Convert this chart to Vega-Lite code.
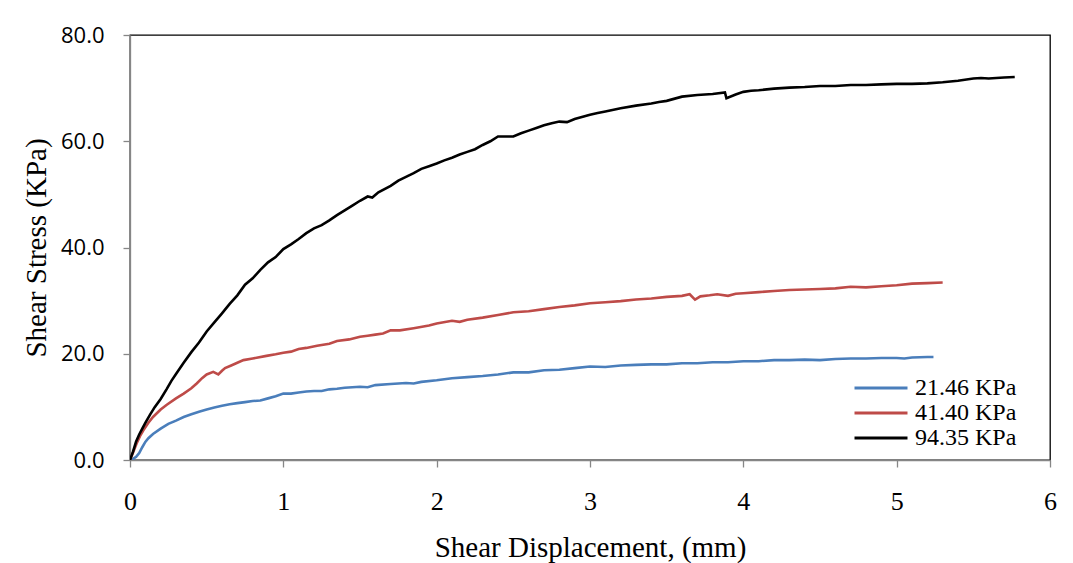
{
  "$schema": "https://vega.github.io/schema/vega-lite/v6.json",
  "width": 920,
  "height": 425,
  "autosize": {"type": "none"},
  "padding": {"left": 130, "top": 35, "right": 23, "bottom": 103},
  "background": "white",
  "config": {
    "view": {"stroke": "#000000", "strokeWidth": 1.3},
    "axis": {"grid": false, "domainColor": "#868686", "tickColor": "#868686", "domainWidth": 1.3, "tickWidth": 1.3, "tickSize": 7, "labelColor": "#000000", "titleColor": "#000000", "titleFontWeight": "normal"}
  },
  "datasets": {
    "d": [
      {"series": "21.46 KPa", "disp": 0, "stress": 0},
      {"series": "21.46 KPa", "disp": 0.02, "stress": 0.2},
      {"series": "21.46 KPa", "disp": 0.04, "stress": 0.6},
      {"series": "21.46 KPa", "disp": 0.06, "stress": 1.3},
      {"series": "21.46 KPa", "disp": 0.08, "stress": 2.4},
      {"series": "21.46 KPa", "disp": 0.1, "stress": 3.4},
      {"series": "21.46 KPa", "disp": 0.12, "stress": 4.1},
      {"series": "21.46 KPa", "disp": 0.15, "stress": 4.9},
      {"series": "21.46 KPa", "disp": 0.2, "stress": 5.9},
      {"series": "21.46 KPa", "disp": 0.25, "stress": 6.8},
      {"series": "21.46 KPa", "disp": 0.3, "stress": 7.4},
      {"series": "21.46 KPa", "disp": 0.35, "stress": 8.1},
      {"series": "21.46 KPa", "disp": 0.4, "stress": 8.6},
      {"series": "21.46 KPa", "disp": 0.45, "stress": 9.1},
      {"series": "21.46 KPa", "disp": 0.5, "stress": 9.5},
      {"series": "21.46 KPa", "disp": 0.55, "stress": 9.9},
      {"series": "21.46 KPa", "disp": 0.6, "stress": 10.2},
      {"series": "21.46 KPa", "disp": 0.65, "stress": 10.5},
      {"series": "21.46 KPa", "disp": 0.7, "stress": 10.7},
      {"series": "21.46 KPa", "disp": 0.75, "stress": 10.9},
      {"series": "21.46 KPa", "disp": 0.8, "stress": 11.1},
      {"series": "21.46 KPa", "disp": 0.85, "stress": 11.2},
      {"series": "21.46 KPa", "disp": 0.9, "stress": 11.6},
      {"series": "21.46 KPa", "disp": 0.95, "stress": 12.0},
      {"series": "21.46 KPa", "disp": 1.0, "stress": 12.5},
      {"series": "21.46 KPa", "disp": 1.05, "stress": 12.5},
      {"series": "21.46 KPa", "disp": 1.1, "stress": 12.7},
      {"series": "21.46 KPa", "disp": 1.15, "stress": 12.9},
      {"series": "21.46 KPa", "disp": 1.2, "stress": 13.0},
      {"series": "21.46 KPa", "disp": 1.25, "stress": 13.0},
      {"series": "21.46 KPa", "disp": 1.3, "stress": 13.3},
      {"series": "21.46 KPa", "disp": 1.35, "stress": 13.4},
      {"series": "21.46 KPa", "disp": 1.4, "stress": 13.6},
      {"series": "21.46 KPa", "disp": 1.5, "stress": 13.8},
      {"series": "21.46 KPa", "disp": 1.55, "stress": 13.7},
      {"series": "21.46 KPa", "disp": 1.6, "stress": 14.1},
      {"series": "21.46 KPa", "disp": 1.7, "stress": 14.3},
      {"series": "21.46 KPa", "disp": 1.8, "stress": 14.5},
      {"series": "21.46 KPa", "disp": 1.85, "stress": 14.4},
      {"series": "21.46 KPa", "disp": 1.9, "stress": 14.7},
      {"series": "21.46 KPa", "disp": 2.0, "stress": 15.0},
      {"series": "21.46 KPa", "disp": 2.1, "stress": 15.4},
      {"series": "21.46 KPa", "disp": 2.2, "stress": 15.6},
      {"series": "21.46 KPa", "disp": 2.3, "stress": 15.8},
      {"series": "21.46 KPa", "disp": 2.4, "stress": 16.1},
      {"series": "21.46 KPa", "disp": 2.5, "stress": 16.5},
      {"series": "21.46 KPa", "disp": 2.6, "stress": 16.5},
      {"series": "21.46 KPa", "disp": 2.7, "stress": 16.9},
      {"series": "21.46 KPa", "disp": 2.8, "stress": 17.0},
      {"series": "21.46 KPa", "disp": 2.9, "stress": 17.3},
      {"series": "21.46 KPa", "disp": 3.0, "stress": 17.6},
      {"series": "21.46 KPa", "disp": 3.1, "stress": 17.5},
      {"series": "21.46 KPa", "disp": 3.2, "stress": 17.8},
      {"series": "21.46 KPa", "disp": 3.3, "stress": 17.9},
      {"series": "21.46 KPa", "disp": 3.4, "stress": 18.0},
      {"series": "21.46 KPa", "disp": 3.5, "stress": 18.0},
      {"series": "21.46 KPa", "disp": 3.6, "stress": 18.2},
      {"series": "21.46 KPa", "disp": 3.7, "stress": 18.2},
      {"series": "21.46 KPa", "disp": 3.8, "stress": 18.4},
      {"series": "21.46 KPa", "disp": 3.9, "stress": 18.4},
      {"series": "21.46 KPa", "disp": 4.0, "stress": 18.6},
      {"series": "21.46 KPa", "disp": 4.1, "stress": 18.6},
      {"series": "21.46 KPa", "disp": 4.2, "stress": 18.8},
      {"series": "21.46 KPa", "disp": 4.3, "stress": 18.8},
      {"series": "21.46 KPa", "disp": 4.4, "stress": 18.9},
      {"series": "21.46 KPa", "disp": 4.5, "stress": 18.8},
      {"series": "21.46 KPa", "disp": 4.6, "stress": 19.0},
      {"series": "21.46 KPa", "disp": 4.7, "stress": 19.1},
      {"series": "21.46 KPa", "disp": 4.8, "stress": 19.1},
      {"series": "21.46 KPa", "disp": 4.9, "stress": 19.2},
      {"series": "21.46 KPa", "disp": 5.0, "stress": 19.2},
      {"series": "21.46 KPa", "disp": 5.05, "stress": 19.1},
      {"series": "21.46 KPa", "disp": 5.1, "stress": 19.3},
      {"series": "21.46 KPa", "disp": 5.2, "stress": 19.4},
      {"series": "21.46 KPa", "disp": 5.24, "stress": 19.4},

      {"series": "41.40 KPa", "disp": 0, "stress": 0},
      {"series": "41.40 KPa", "disp": 0.02, "stress": 1.4},
      {"series": "41.40 KPa", "disp": 0.043, "stress": 3.1},
      {"series": "41.40 KPa", "disp": 0.065, "stress": 4.5},
      {"series": "41.40 KPa", "disp": 0.087, "stress": 5.6},
      {"series": "41.40 KPa", "disp": 0.12, "stress": 7.0},
      {"series": "41.40 KPa", "disp": 0.15, "stress": 8.1},
      {"series": "41.40 KPa", "disp": 0.2, "stress": 9.5},
      {"series": "41.40 KPa", "disp": 0.24, "stress": 10.4},
      {"series": "41.40 KPa", "disp": 0.3, "stress": 11.6},
      {"series": "41.40 KPa", "disp": 0.35, "stress": 12.5},
      {"series": "41.40 KPa", "disp": 0.4, "stress": 13.5},
      {"series": "41.40 KPa", "disp": 0.435, "stress": 14.4},
      {"series": "41.40 KPa", "disp": 0.47, "stress": 15.4},
      {"series": "41.40 KPa", "disp": 0.5, "stress": 16.1},
      {"series": "41.40 KPa", "disp": 0.543, "stress": 16.6},
      {"series": "41.40 KPa", "disp": 0.576, "stress": 16.1},
      {"series": "41.40 KPa", "disp": 0.6, "stress": 16.8},
      {"series": "41.40 KPa", "disp": 0.62, "stress": 17.3},
      {"series": "41.40 KPa", "disp": 0.66, "stress": 17.8},
      {"series": "41.40 KPa", "disp": 0.7, "stress": 18.3},
      {"series": "41.40 KPa", "disp": 0.74, "stress": 18.8},
      {"series": "41.40 KPa", "disp": 0.8, "stress": 19.1},
      {"series": "41.40 KPa", "disp": 0.89, "stress": 19.6},
      {"series": "41.40 KPa", "disp": 0.95, "stress": 19.9},
      {"series": "41.40 KPa", "disp": 1.0, "stress": 20.2},
      {"series": "41.40 KPa", "disp": 1.05, "stress": 20.4},
      {"series": "41.40 KPa", "disp": 1.1, "stress": 20.9},
      {"series": "41.40 KPa", "disp": 1.15, "stress": 21.1},
      {"series": "41.40 KPa", "disp": 1.22, "stress": 21.5},
      {"series": "41.40 KPa", "disp": 1.3, "stress": 21.9},
      {"series": "41.40 KPa", "disp": 1.35, "stress": 22.4},
      {"series": "41.40 KPa", "disp": 1.43, "stress": 22.7},
      {"series": "41.40 KPa", "disp": 1.5, "stress": 23.2},
      {"series": "41.40 KPa", "disp": 1.55, "stress": 23.4},
      {"series": "41.40 KPa", "disp": 1.6, "stress": 23.6},
      {"series": "41.40 KPa", "disp": 1.65, "stress": 23.8},
      {"series": "41.40 KPa", "disp": 1.7, "stress": 24.4},
      {"series": "41.40 KPa", "disp": 1.76, "stress": 24.4},
      {"series": "41.40 KPa", "disp": 1.85, "stress": 24.8},
      {"series": "41.40 KPa", "disp": 1.95, "stress": 25.3},
      {"series": "41.40 KPa", "disp": 2.0, "stress": 25.7},
      {"series": "41.40 KPa", "disp": 2.1, "stress": 26.2},
      {"series": "41.40 KPa", "disp": 2.15, "stress": 26.0},
      {"series": "41.40 KPa", "disp": 2.2, "stress": 26.4},
      {"series": "41.40 KPa", "disp": 2.3, "stress": 26.8},
      {"series": "41.40 KPa", "disp": 2.4, "stress": 27.3},
      {"series": "41.40 KPa", "disp": 2.5, "stress": 27.8},
      {"series": "41.40 KPa", "disp": 2.6, "stress": 28.0},
      {"series": "41.40 KPa", "disp": 2.7, "stress": 28.4},
      {"series": "41.40 KPa", "disp": 2.8, "stress": 28.8},
      {"series": "41.40 KPa", "disp": 2.9, "stress": 29.1},
      {"series": "41.40 KPa", "disp": 3.0, "stress": 29.5},
      {"series": "41.40 KPa", "disp": 3.1, "stress": 29.7},
      {"series": "41.40 KPa", "disp": 3.2, "stress": 29.9},
      {"series": "41.40 KPa", "disp": 3.3, "stress": 30.2},
      {"series": "41.40 KPa", "disp": 3.4, "stress": 30.4},
      {"series": "41.40 KPa", "disp": 3.5, "stress": 30.7},
      {"series": "41.40 KPa", "disp": 3.6, "stress": 30.9},
      {"series": "41.40 KPa", "disp": 3.65, "stress": 31.2},
      {"series": "41.40 KPa", "disp": 3.685, "stress": 30.2},
      {"series": "41.40 KPa", "disp": 3.72, "stress": 30.8},
      {"series": "41.40 KPa", "disp": 3.78, "stress": 31.0},
      {"series": "41.40 KPa", "disp": 3.83, "stress": 31.2},
      {"series": "41.40 KPa", "disp": 3.9, "stress": 30.9},
      {"series": "41.40 KPa", "disp": 3.95, "stress": 31.3},
      {"series": "41.40 KPa", "disp": 4.0, "stress": 31.4},
      {"series": "41.40 KPa", "disp": 4.1, "stress": 31.6},
      {"series": "41.40 KPa", "disp": 4.2, "stress": 31.8},
      {"series": "41.40 KPa", "disp": 4.3, "stress": 32.0},
      {"series": "41.40 KPa", "disp": 4.4, "stress": 32.1},
      {"series": "41.40 KPa", "disp": 4.5, "stress": 32.2},
      {"series": "41.40 KPa", "disp": 4.6, "stress": 32.3},
      {"series": "41.40 KPa", "disp": 4.7, "stress": 32.6},
      {"series": "41.40 KPa", "disp": 4.8, "stress": 32.5},
      {"series": "41.40 KPa", "disp": 4.9, "stress": 32.7},
      {"series": "41.40 KPa", "disp": 5.0, "stress": 32.9},
      {"series": "41.40 KPa", "disp": 5.1, "stress": 33.2},
      {"series": "41.40 KPa", "disp": 5.2, "stress": 33.3},
      {"series": "41.40 KPa", "disp": 5.3, "stress": 33.4},

      {"series": "94.35 KPa", "disp": 0, "stress": 0},
      {"series": "94.35 KPa", "disp": 0.02, "stress": 1.6},
      {"series": "94.35 KPa", "disp": 0.04, "stress": 3.5},
      {"series": "94.35 KPa", "disp": 0.06, "stress": 4.8},
      {"series": "94.35 KPa", "disp": 0.08, "stress": 5.9},
      {"series": "94.35 KPa", "disp": 0.1, "stress": 7.0},
      {"series": "94.35 KPa", "disp": 0.13, "stress": 8.5},
      {"series": "94.35 KPa", "disp": 0.16, "stress": 9.9},
      {"series": "94.35 KPa", "disp": 0.2, "stress": 11.5},
      {"series": "94.35 KPa", "disp": 0.24, "stress": 13.4},
      {"series": "94.35 KPa", "disp": 0.27, "stress": 14.9},
      {"series": "94.35 KPa", "disp": 0.3, "stress": 16.2},
      {"series": "94.35 KPa", "disp": 0.35, "stress": 18.3},
      {"series": "94.35 KPa", "disp": 0.4, "stress": 20.3},
      {"series": "94.35 KPa", "disp": 0.45, "stress": 22.1},
      {"series": "94.35 KPa", "disp": 0.5, "stress": 24.2},
      {"series": "94.35 KPa", "disp": 0.55, "stress": 25.9},
      {"series": "94.35 KPa", "disp": 0.6, "stress": 27.6},
      {"series": "94.35 KPa", "disp": 0.65, "stress": 29.4},
      {"series": "94.35 KPa", "disp": 0.7, "stress": 31.0},
      {"series": "94.35 KPa", "disp": 0.75, "stress": 33.0},
      {"series": "94.35 KPa", "disp": 0.8, "stress": 34.2},
      {"series": "94.35 KPa", "disp": 0.85, "stress": 35.8},
      {"series": "94.35 KPa", "disp": 0.9, "stress": 37.2},
      {"series": "94.35 KPa", "disp": 0.95, "stress": 38.2},
      {"series": "94.35 KPa", "disp": 1.0, "stress": 39.7},
      {"series": "94.35 KPa", "disp": 1.05, "stress": 40.6},
      {"series": "94.35 KPa", "disp": 1.1, "stress": 41.6},
      {"series": "94.35 KPa", "disp": 1.15, "stress": 42.7},
      {"series": "94.35 KPa", "disp": 1.2, "stress": 43.6},
      {"series": "94.35 KPa", "disp": 1.25, "stress": 44.2},
      {"series": "94.35 KPa", "disp": 1.3, "stress": 45.1},
      {"series": "94.35 KPa", "disp": 1.35, "stress": 46.1},
      {"series": "94.35 KPa", "disp": 1.4, "stress": 47.0},
      {"series": "94.35 KPa", "disp": 1.45, "stress": 47.9},
      {"series": "94.35 KPa", "disp": 1.5, "stress": 48.8},
      {"series": "94.35 KPa", "disp": 1.55, "stress": 49.6},
      {"series": "94.35 KPa", "disp": 1.58, "stress": 49.4},
      {"series": "94.35 KPa", "disp": 1.62, "stress": 50.4},
      {"series": "94.35 KPa", "disp": 1.7, "stress": 51.6},
      {"series": "94.35 KPa", "disp": 1.75, "stress": 52.6},
      {"series": "94.35 KPa", "disp": 1.8, "stress": 53.3},
      {"series": "94.35 KPa", "disp": 1.85, "stress": 54.0},
      {"series": "94.35 KPa", "disp": 1.9, "stress": 54.8},
      {"series": "94.35 KPa", "disp": 1.95, "stress": 55.3},
      {"series": "94.35 KPa", "disp": 2.0, "stress": 55.8},
      {"series": "94.35 KPa", "disp": 2.05, "stress": 56.4},
      {"series": "94.35 KPa", "disp": 2.1, "stress": 56.9},
      {"series": "94.35 KPa", "disp": 2.15, "stress": 57.5},
      {"series": "94.35 KPa", "disp": 2.2, "stress": 58.0},
      {"series": "94.35 KPa", "disp": 2.25, "stress": 58.5},
      {"series": "94.35 KPa", "disp": 2.3, "stress": 59.3},
      {"series": "94.35 KPa", "disp": 2.35, "stress": 60.0},
      {"series": "94.35 KPa", "disp": 2.4, "stress": 60.9},
      {"series": "94.35 KPa", "disp": 2.5, "stress": 60.9},
      {"series": "94.35 KPa", "disp": 2.55, "stress": 61.5},
      {"series": "94.35 KPa", "disp": 2.6, "stress": 62.0},
      {"series": "94.35 KPa", "disp": 2.65, "stress": 62.5},
      {"series": "94.35 KPa", "disp": 2.7, "stress": 63.0},
      {"series": "94.35 KPa", "disp": 2.75, "stress": 63.4},
      {"series": "94.35 KPa", "disp": 2.8, "stress": 63.7},
      {"series": "94.35 KPa", "disp": 2.85, "stress": 63.6},
      {"series": "94.35 KPa", "disp": 2.9, "stress": 64.2},
      {"series": "94.35 KPa", "disp": 3.0, "stress": 65.0},
      {"series": "94.35 KPa", "disp": 3.05, "stress": 65.3},
      {"series": "94.35 KPa", "disp": 3.1, "stress": 65.6},
      {"series": "94.35 KPa", "disp": 3.2, "stress": 66.2},
      {"series": "94.35 KPa", "disp": 3.3, "stress": 66.7},
      {"series": "94.35 KPa", "disp": 3.4, "stress": 67.1},
      {"series": "94.35 KPa", "disp": 3.45, "stress": 67.4},
      {"series": "94.35 KPa", "disp": 3.5, "stress": 67.6},
      {"series": "94.35 KPa", "disp": 3.6, "stress": 68.4},
      {"series": "94.35 KPa", "disp": 3.7, "stress": 68.7},
      {"series": "94.35 KPa", "disp": 3.8, "stress": 68.9},
      {"series": "94.35 KPa", "disp": 3.88, "stress": 69.2},
      {"series": "94.35 KPa", "disp": 3.89, "stress": 68.1},
      {"series": "94.35 KPa", "disp": 3.95, "stress": 68.8},
      {"series": "94.35 KPa", "disp": 4.0, "stress": 69.3},
      {"series": "94.35 KPa", "disp": 4.05, "stress": 69.5},
      {"series": "94.35 KPa", "disp": 4.1, "stress": 69.6},
      {"series": "94.35 KPa", "disp": 4.2, "stress": 69.9},
      {"series": "94.35 KPa", "disp": 4.3, "stress": 70.1},
      {"series": "94.35 KPa", "disp": 4.4, "stress": 70.2},
      {"series": "94.35 KPa", "disp": 4.5, "stress": 70.4},
      {"series": "94.35 KPa", "disp": 4.6, "stress": 70.4},
      {"series": "94.35 KPa", "disp": 4.7, "stress": 70.6},
      {"series": "94.35 KPa", "disp": 4.8, "stress": 70.6},
      {"series": "94.35 KPa", "disp": 4.9, "stress": 70.7},
      {"series": "94.35 KPa", "disp": 5.0, "stress": 70.8},
      {"series": "94.35 KPa", "disp": 5.1, "stress": 70.8},
      {"series": "94.35 KPa", "disp": 5.2, "stress": 70.9},
      {"series": "94.35 KPa", "disp": 5.3, "stress": 71.1},
      {"series": "94.35 KPa", "disp": 5.4, "stress": 71.4},
      {"series": "94.35 KPa", "disp": 5.5, "stress": 71.8},
      {"series": "94.35 KPa", "disp": 5.55, "stress": 71.9},
      {"series": "94.35 KPa", "disp": 5.6, "stress": 71.8},
      {"series": "94.35 KPa", "disp": 5.7, "stress": 72.0},
      {"series": "94.35 KPa", "disp": 5.77, "stress": 72.1}
    ]
  },
  "data": {"name": "d"},
  "mark": {"type": "line", "strokeWidth": 2.6, "clip": true},
  "encoding": {
    "x": {
      "field": "disp", "type": "quantitative",
      "scale": {"domain": [0, 6], "nice": false},
      "axis": {
        "title": "Shear Displacement, (mm)",
        "values": [0, 1, 2, 3, 4, 5, 6], "format": "d", "labelFlush": false,
        "labelFont": "Liberation Serif", "labelFontSize": 26, "labelPadding": 21,
        "titleFont": "Liberation Serif", "titleFontSize": 29, "titlePadding": 19
      }
    },
    "y": {
      "field": "stress", "type": "quantitative",
      "scale": {"domain": [0, 80], "nice": false},
      "axis": {
        "title": "Shear Stress (KPa)",
        "values": [0, 20, 40, 60, 80], "format": ".1f", "labelFlush": false,
        "labelFont": "Open Sans", "labelFontSize": 22, "labelPadding": 19,
        "titleFont": "Liberation Serif", "titleFontSize": 29, "titlePadding": 9
      }
    },
    "color": {
      "field": "series", "type": "nominal",
      "scale": {"domain": ["21.46 KPa", "41.40 KPa", "94.35 KPa"], "range": ["#4A7EBB", "#BE4B48", "#000000"]},
      "legend": {
        "title": null, "orient": "none", "legendX": 739, "legendY": 341,
        "symbolType": "M-3,0H3", "symbolSize": 312, "symbolStrokeWidth": 3,
        "labelFont": "Liberation Serif", "labelFontSize": 24, "labelColor": "#000000",
        "labelOffset": 22, "rowPadding": 1, "padding": 0
      }
    }
  }
}
